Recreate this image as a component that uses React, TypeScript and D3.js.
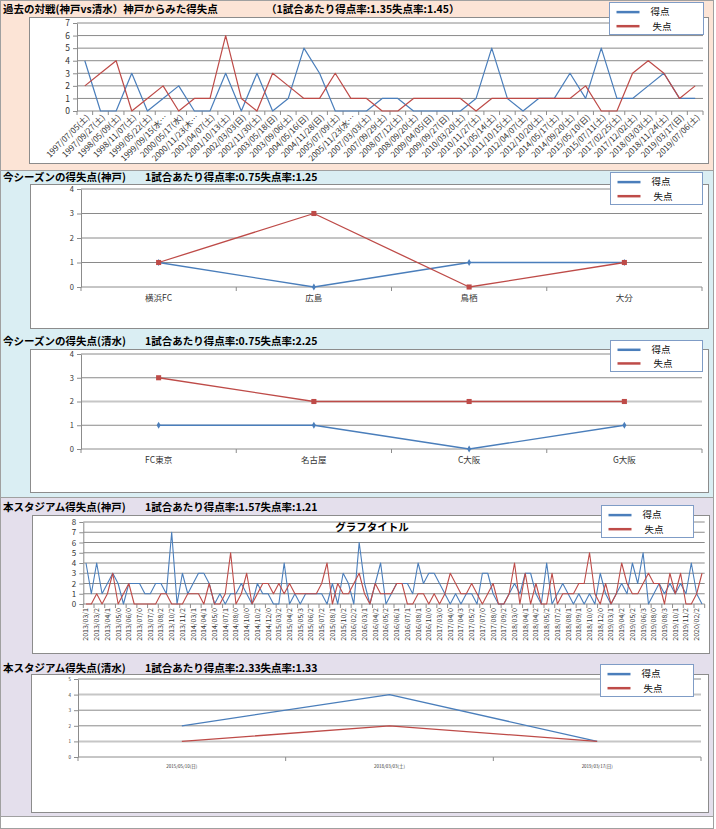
import React, { useEffect, useRef } from "react";
import * as d3 from "d3";

// ---- panel 1: past matches Kobe vs Shimizu ----
const pastDates = [
  "1997/07/05(土)", "1997/09/27(土)", "1998/05/09(土)", "1998/11/07(土)", "1999/05/22(土)",
  "1999/09/15(水…", "2000/05/17(水)", "2000/11/23(木…", "2001/04/07(土)", "2001/10/13(土)",
  "2002/03/03(日)", "2002/11/30(土)", "2003/05/18(日)", "2003/09/06(土)", "2004/05/16(日)",
  "2004/11/28(日)", "2005/07/09(土)", "2005/11/23(水…", "2007/03/03(土)", "2007/09/29(土)",
  "2008/07/12(土)", "2008/09/20(土)", "2009/04/05(日)", "2009/09/27(日)", "2010/03/20(土)",
  "2010/11/27(土)", "2011/05/14(土)", "2011/10/15(土)", "2012/04/07(土)", "2012/10/20(土)",
  "2014/05/17(土)", "2014/09/20(土)", "2015/05/10(日)", "2015/07/11(土)", "2017/02/25(土)",
  "2017/12/02(土)", "2018/03/03(土)", "2018/11/24(土)", "2019/03/17(日)", "2019/07/06(土)",
];
const pastScored = [4, 0, 0, 3, 0, 1, 2, 0, 0, 3, 0, 3, 0, 1, 5, 3, 0, 0, 0, 1, 1, 0, 0, 0, 0, 1, 5, 1, 0, 1, 1, 3, 1, 5, 1, 1, 2, 3, 1, 1];
const pastConceded = [2, 3, 4, 0, 1, 2, 0, 1, 1, 6, 1, 0, 3, 2, 1, 1, 3, 1, 1, 0, 0, 1, 1, 1, 1, 0, 1, 1, 1, 1, 1, 1, 2, 0, 0, 3, 4, 3, 1, 2];

// ---- panel 2: this season (Kobe) ----
const kobeOpponents = ["横浜FC", "広島", "鳥栖", "大分"];
const kobeScored = [1, 0, 1, 1];
const kobeConceded = [1, 3, 0, 1];

// ---- panel 3: this season (Shimizu) ----
const shimizuOpponents = ["FC東京", "名古屋", "C大阪", "G大阪"];
const shimizuScored = [1, 1, 0, 1];
const shimizuConceded = [3, 2, 2, 2];

// ---- panel 4: this stadium (Kobe) ----
const stadiumKobeLabels = [
  "2013/03/1", "2013/03/2", "2013/04/1", "2013/05/0", "2013/06/0", "2013/07/0", "2013/07/2", "2013/08/2",
  "2013/10/2", "2013/11/2", "2014/03/1", "2014/04/1", "2014/05/0", "2014/07/1", "2014/08/0", "2014/10/0",
  "2014/10/2", "2014/12/0", "2015/03/2", "2015/04/2", "2015/05/3", "2015/06/2", "2015/07/2", "2015/08/1",
  "2015/10/2", "2016/02/2", "2016/03/1", "2016/04/2", "2016/05/2", "2016/06/1", "2016/07/1", "2016/08/1",
  "2016/10/0", "2017/03/0", "2017/04/0", "2017/04/3", "2017/05/2", "2017/07/0", "2017/08/0", "2017/09/2",
  "2018/03/0", "2018/04/1", "2018/04/2", "2018/05/2", "2018/07/2", "2018/08/1", "2018/09/1", "2018/10/0",
  "2018/12/0", "2019/03/1", "2019/04/2", "2019/05/2", "2019/06/3", "2019/08/0", "2019/08/3", "2019/10/1",
  "2019/11/2", "2020/02/2",
];
const stadiumKobeScored = [
  4, 1, 4, 1, 2, 3, 2, 0, 2, 2, 2, 1, 1, 2, 2, 1, 7, 0, 3, 1, 2, 3, 3, 2, 0, 1, 0, 1, 1, 2,
  1, 0, 2, 1, 1, 0, 0, 4, 0, 1, 0, 1, 1, 1, 1, 0, 2, 0, 3, 2, 0, 6, 2, 0, 2, 4,
  0, 1, 2, 2, 2, 1, 4, 2, 3, 3, 2, 1, 0, 1, 0, 1, 1, 0, 3, 3, 1, 0, 0, 1, 2, 1, 3, 3, 1, 0,
  4, 0, 1, 2, 1, 0, 1, 0, 1, 0, 3, 1, 0, 1, 2, 1, 4, 2, 5, 0, 1, 2, 1, 2, 1, 2, 1, 4, 1, 0,
];
const stadiumKobeConceded = [
  0, 0, 1, 0, 1, 3, 0, 1, 2, 0, 0, 0, 0, 0, 1, 1, 0, 0, 0, 1, 1, 1, 0, 2, 0, 0, 1, 5, 0, 1,
  3, 0, 1, 2, 2, 1, 2, 1, 2, 1, 1, 1, 1, 1, 2, 4, 0, 2, 1, 1, 2, 3, 1, 0, 2, 1,
  1, 1, 2, 2, 0, 0, 1, 1, 0, 1, 0, 1, 3, 2, 1, 1, 2, 1, 0, 1, 2, 0, 0, 1, 4, 0, 3, 0, 2, 0,
  0, 3, 0, 1, 1, 1, 2, 2, 5, 1, 0, 2, 0, 1, 4, 2, 1, 1, 2, 3, 2, 2, 0, 3, 1, 3, 0, 0, 1, 3,
];

// ---- panel 5: this stadium (Shimizu) ----
const stadiumShimizuDates = ["2015/05/10(日)", "2018/03/03(土)", "2019/03/17(日)"];
const stadiumShimizuScored = [2, 4, 1];
const stadiumShimizuConceded = [1, 2, 1];

const seriesNames = ["得点", "失点"];

const BLUE = "#4a7ebb";
const RED = "#be4b48";
const FONT = "'Noto Sans CJK JP', 'Noto Sans', sans-serif";

interface ChartProps {
  box: number[];
  plot: { left: number; right: number; top: number; bottom: number };
  yMax: number;
  labels: string[];
  labelStep: number;
  labelMode: "rot45" | "rot90" | "flat";
  yFont: number;
  xFont: number;
  scored: number[];
  conceded: number[];
  markers?: boolean;
  legend: number[];
  chartTitle?: string;
  lightGrid?: number[];
  lineWidth?: number;
}

const Chart = ({
  box, plot, yMax, labels, labelStep, labelMode, yFont, xFont,
  scored, conceded, markers = false, legend, chartTitle, lightGrid = [], lineWidth = 1.3,
}: ChartProps) => {
  const ref = useRef<SVGGElement>(null);

  useEffect(() => {
    const g = d3.select(ref.current);
    g.selectAll("*").remove();

    const count = scored.length;
    const x = d3.scaleBand<number>().domain(d3.range(count)).range([plot.left, plot.right]);
    const cx = (i: number) => (x(i) as number) + x.bandwidth() / 2;
    const y = d3.scaleLinear().domain([0, yMax]).range([plot.bottom, plot.top]);

    // chart area
    g.append("rect")
      .attr("x", box[0]).attr("y", box[1]).attr("width", box[2]).attr("height", box[3])
      .attr("fill", "#fff").attr("stroke", "#8c8c8c");

    // gridlines
    g.append("g").selectAll("line")
      .data(y.ticks(yMax).filter((v) => v > 0))
      .join("line")
      .attr("x1", plot.left).attr("x2", plot.right)
      .attr("y1", (d) => y(d)).attr("y2", (d) => y(d))
      .attr("stroke", (d) => (lightGrid.includes(d) ? "#c6c6c6" : "#8a8a8a"))
      .attr("stroke-width", (d) => (lightGrid.includes(d) ? 2 : 1));

    // y axis
    const ya = g.append("g")
      .attr("transform", `translate(${plot.left},0)`)
      .call(d3.axisLeft(y).ticks(yMax).tickSize(4).tickPadding(3).tickSizeOuter(0));
    ya.select(".domain").attr("stroke", "#8c8c8c");
    ya.selectAll(".tick line").attr("stroke", "#8c8c8c");
    ya.selectAll("text").attr("font-size", yFont).attr("font-family", FONT).attr("fill", "#333");

    // x axis line + tick marks between categories
    g.append("line")
      .attr("x1", plot.left).attr("x2", plot.right)
      .attr("y1", y(0)).attr("y2", y(0))
      .attr("stroke", "#8c8c8c");
    g.append("g").selectAll("line")
      .data(d3.range(0, count + 1, labelStep))
      .join("line")
      .attr("x1", (i) => plot.left + i * x.step()).attr("x2", (i) => plot.left + i * x.step())
      .attr("y1", y(0)).attr("y2", y(0) + 4)
      .attr("stroke", "#8c8c8c");

    // category labels
    const lab = g.append("g").selectAll("text")
      .data(labels.map((t, k) => ({ t, i: k * labelStep })))
      .join("text")
      .text((d) => d.t)
      .attr("font-size", xFont).attr("font-family", FONT).attr("fill", "#333");
    if (labelMode === "rot45") {
      lab.attr("text-anchor", "end")
        .attr("transform", (d) => `translate(${cx(d.i) + 3},${y(0) + 5}) rotate(-45)`)
        .attr("dy", "0.35em");
    } else if (labelMode === "rot90") {
      lab.attr("text-anchor", "end")
        .attr("transform", (d) => `translate(${cx(d.i)},${y(0) + 4}) rotate(-90)`)
        .attr("dy", "0.35em");
    } else {
      lab.attr("text-anchor", "middle")
        .attr("x", (d) => cx(d.i))
        .attr("y", y(0) + 7)
        .attr("dy", "0.8em");
    }

    // lines
    const line = d3.line<number>().x((_, i) => cx(i)).y((d) => y(d));
    [scored, conceded].forEach((s, k) => {
      g.append("path").datum(s)
        .attr("d", line)
        .attr("fill", "none")
        .attr("stroke", k === 0 ? BLUE : RED)
        .attr("stroke-width", lineWidth)
        .attr("stroke-linejoin", "round");
    });

    if (markers) {
      g.append("g").selectAll("path")
        .data(scored)
        .join("path")
        .attr("d", d3.symbol(d3.symbolDiamond, 14))
        .attr("transform", (d, i) => `translate(${cx(i)},${y(d)})`)
        .attr("fill", BLUE);
      g.append("g").selectAll("path")
        .data(conceded)
        .join("path")
        .attr("d", d3.symbol(d3.symbolSquare, 26))
        .attr("transform", (d, i) => `translate(${cx(i)},${y(d)})`)
        .attr("fill", RED);
    }

    if (chartTitle) {
      g.append("text")
        .text(chartTitle)
        .attr("x", (plot.left + plot.right) / 2 - 22)
        .attr("y", box[1] + 12)
        .attr("dy", "0.35em")
        .attr("text-anchor", "middle")
        .attr("font-size", 10.5).attr("font-weight", "bold")
        .attr("font-family", FONT);
    }

    // legend
    const [lx, ly, lw, lh] = legend;
    const lg = g.append("g");
    lg.append("rect")
      .attr("x", lx).attr("y", ly).attr("width", lw).attr("height", lh)
      .attr("fill", "#fff").attr("stroke", "#7f9cc6");
    seriesNames.forEach((name, k) => {
      const ry = ly + lh * (0.3 + 0.44 * k);
      lg.append("line")
        .attr("x1", lx + 7).attr("x2", lx + 30).attr("y1", ry).attr("y2", ry)
        .attr("stroke", k === 0 ? BLUE : RED).attr("stroke-width", 2.5);
      lg.append("text")
        .text(name)
        .attr("x", lx + 41 + k * 2).attr("y", ry).attr("dy", "0.35em")
        .attr("font-size", 9.5).attr("font-family", FONT).attr("fill", "#111");
    });
  }, []);

  return <g ref={ref} />;
};

const Title = ({ y, left, right }: { y: number; left: string; right: string }) => (
  <g fontFamily={FONT} fontWeight="bold" fontSize={10.5} fill="#000">
    <text x={3} y={y} dy="0.35em">{left}</text>
    <text x={right.startsWith("（") ? 266 : 145} y={y} dy="0.35em">{right}</text>
  </g>
);

const App = () => (
  <svg width={716} height={829} style={{ position: "absolute", left: 0, top: 0 }}>
    <rect x={0} y={0} width={716} height={829} fill="#fff" />
    <rect x={0.5} y={0.5} width={713} height={170} fill="#fce4d6" stroke="#a0a0a0" />
    <rect x={0.5} y={170.5} width={713} height={327} fill="#daeef3" stroke="#a0a0a0" />
    <rect x={0.5} y={497.5} width={713} height={319} fill="#e4dfec" stroke="#a0a0a0" />
    <rect x={0.5} y={816.5} width={713} height={12} fill="#fff" stroke="#a0a0a0" />

    <Title y={9} left="過去の対戦(神戸vs清水）神戸からみた得失点" right="（1試合あたり得点率:1.35失点率:1.45）" />
    <Chart
      box={[29.5, 17.5, 679, 146]}
      plot={{ left: 77, right: 703, top: 23, bottom: 111 }}
      yMax={7}
      labels={pastDates}
      labelStep={1}
      labelMode="rot45"
      yFont={8.5}
      xFont={8.2}
      scored={pastScored}
      conceded={pastConceded}
      lineWidth={1.2}
      legend={[609.5, 2.5, 94, 32]}
    />

    <Title y={177} left="今シーズンの得失点(神戸)" right="1試合あたり得点率:0.75失点率:1.25" />
    <Chart
      box={[30.5, 184.5, 678, 144]}
      plot={{ left: 81, right: 702, top: 189, bottom: 287 }}
      yMax={4}
      labels={kobeOpponents}
      labelStep={1}
      labelMode="flat"
      yFont={7.5}
      xFont={8.5}
      scored={kobeScored}
      conceded={kobeConceded}
      markers
      legend={[610.5, 172.5, 92, 32]}
    />

    <Title y={341} left="今シーズンの得失点(清水)" right="1試合あたり得点率:0.75失点率:2.25" />
    <Chart
      box={[30.5, 349.5, 678, 143]}
      plot={{ left: 81, right: 702, top: 354, bottom: 449 }}
      yMax={4}
      labels={shimizuOpponents}
      labelStep={1}
      labelMode="flat"
      yFont={7.5}
      xFont={8.5}
      scored={shimizuScored}
      conceded={shimizuConceded}
      markers
      lightGrid={[2]}
      legend={[610.5, 340.5, 92, 31]}
    />

    <Title y={507} left="本スタジアム得失点(神戸)" right="1試合あたり得点率:1.57失点率:1.21" />
    <Chart
      box={[32.5, 515.5, 677, 138]}
      plot={{ left: 83.3, right: 704.7, top: 522, bottom: 604 }}
      yMax={8}
      labels={stadiumKobeLabels}
      labelStep={2}
      labelMode="rot90"
      yFont={8}
      xFont={7}
      scored={stadiumKobeScored}
      conceded={stadiumKobeConceded}
      lineWidth={1.1}
      chartTitle="グラフタイトル"
      legend={[601.5, 505.5, 92, 32]}
    />

    <Title y={668} left="本スタジアム得失点(清水)" right="1試合あたり得点率:2.33失点率:1.33" />
    <Chart
      box={[31.5, 674.5, 677, 138]}
      plot={{ left: 78, right: 701, top: 679, bottom: 757 }}
      yMax={5}
      labels={stadiumShimizuDates}
      labelStep={1}
      labelMode="flat"
      yFont={4.5}
      xFont={4.5}
      scored={stadiumShimizuScored}
      conceded={stadiumShimizuConceded}
      lightGrid={[4, 1]}
      legend={[600.5, 664.5, 93, 32]}
    />
  </svg>
);

export default App;
